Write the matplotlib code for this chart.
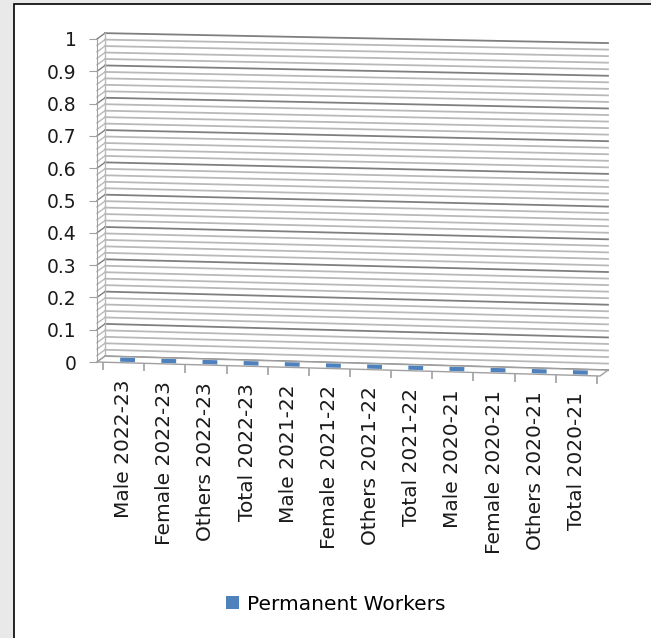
import numpy as np
import matplotlib
matplotlib.use("Agg")
import matplotlib.pyplot as plt
import matplotlib.transforms as mtransforms
from matplotlib.patches import Polygon, Rectangle, Patch

categories = ["Male 2022-23", "Female 2022-23", "Others 2022-23", "Total 2022-23",
              "Male 2021-22", "Female 2021-22", "Others 2021-22", "Total 2021-22",
              "Male 2020-21", "Female 2020-21", "Others 2020-21", "Total 2020-21"]
permanent_workers = [0, 0, 0, 0, 0, 0, 0, 0, 0, 0, 0, 0]
y_ticks = [0, 0.1, 0.2, 0.3, 0.4, 0.5, 0.6, 0.7, 0.8, 0.9, 1]
y_ticklabels = ["0", "0.1", "0.2", "0.3", "0.4", "0.5", "0.6", "0.7", "0.8", "0.9", "1"]

bar_color = "#4f81bd"
grid_major = "#7f7f7f"
grid_minor = "#b9b9b9"
edge_gray = "#a0a0a0"


class Perspective(mtransforms.Transform):
    # tilts the chart so the right side sinks a little, more near the floor
    input_dims = 2
    output_dims = 2
    is_separable = False
    has_inverse = False

    def __init__(self, x0, k0, k1):
        super().__init__()
        self.x0, self.k0, self.k1 = x0, k0, k1

    def transform_non_affine(self, values):
        values = np.asarray(values, dtype=float)
        x, y = values[:, 0], values[:, 1]
        return np.column_stack([x, y - (self.k0 + self.k1 * y) * (x - self.x0)])


W, H = 651, 638
fig = plt.figure(figsize=(W / 100, H / 100), dpi=100)
fig.patch.set_facecolor("#e9e9e9")
fig.patches.append(Rectangle((14 / W, -0.05), 1.0, (H - 4) / H + 0.05,
                             transform=fig.transFigure, facecolor="white",
                             edgecolor="black", linewidth=1.2, zorder=-5))

# axes spans the front plane of the plot area
ax_left, ax_right, ax_top, ax_bottom = 97, 600, 39, 362
ax = fig.add_axes([ax_left / W, (H - ax_bottom) / H,
                   (ax_right - ax_left) / W, (ax_bottom - ax_top) / H])
ax.patch.set_alpha(0)

n = len(categories)
xmin, xmax = -0.646, 11.573
ax.set_xlim(xmin, xmax)
ax.set_ylim(0, 1)

persp = Perspective(xmin, 0.00355, -0.00102)
front = persp + ax.transData
DX, DY = 0.194, 0.0186
back = mtransforms.Affine2D().translate(DX, DY) + front
mid = mtransforms.Affine2D().translate(DX / 2, DY / 2) + front

# back wall gridlines and the matching lines on the side wall
for v in np.round(np.arange(0, 1.0001, 0.02), 2):
    major = np.isclose(v * 10, round(v * 10))
    col = grid_major if major else grid_minor
    lw = 1.3 if major else 1.3
    ax.plot([xmin, xmax], [v, v], transform=back, color=col, lw=lw,
            clip_on=False, zorder=1)
    ax.plot([xmin, xmin + DX], [v, v + DY], transform=front, color=col,
            lw=1.0, clip_on=False, zorder=1)
ax.plot([xmin, xmin], [0, 1], transform=back, color=grid_minor, lw=1.0,
        clip_on=False, zorder=1)

# floor
floor = Polygon([[xmin, 0], [xmax, 0], [xmax + DX, DY], [xmin + DX, DY]],
                closed=True, transform=front, facecolor="white",
                edgecolor=edge_gray, lw=1.0, clip_on=False, zorder=2)
ax.add_patch(floor)

# bars (top faces only, values sit on the floor)
xs = np.arange(n)
ax.hlines(permanent_workers, xs - 0.18, xs + 0.18, transform=mid,
          color=bar_color, lw=3.0, clip_on=False, zorder=3)

# category axis
bounds = np.arange(n + 1) - 0.5
ax.vlines(bounds, 0, -0.025, transform=front, color=edge_gray, lw=1.2,
          clip_on=False, zorder=3)
label_off = mtransforms.ScaledTranslation(0, -0.17, fig.dpi_scale_trans)
for i, lab in enumerate(categories):
    ax.text(i, 0, lab, transform=front + label_off, rotation=90,
            ha="center", va="top", fontsize=14.5, color="#1a1a1a")

# value axis
for s in ["top", "right", "bottom"]:
    ax.spines[s].set_visible(False)
ax.spines["left"].set_color(edge_gray)
ax.set_xticks([])
ax.set_yticks(y_ticks)
ax.set_yticklabels(y_ticklabels)
ax.tick_params(axis="y", direction="out", length=6, color=edge_gray,
               labelsize=13.5, pad=8.5, labelcolor="#1a1a1a")

fig.legend(handles=[Patch(facecolor=bar_color, label="Permanent Workers")],
           loc="center", bbox_to_anchor=(336 / W, (H - 604) / H),
           frameon=False, fontsize=14.5, handlelength=0.65, handleheight=0.65,
           handletextpad=0.4)

fig.savefig("out.png", dpi=100)
